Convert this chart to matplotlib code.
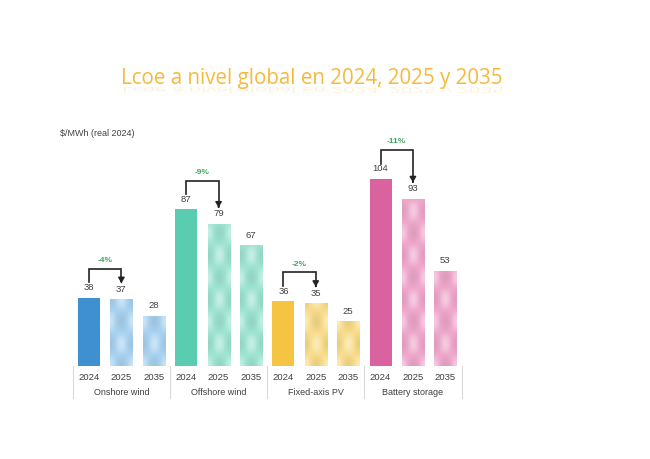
import matplotlib.pyplot as plt
import numpy as np
from matplotlib.textpath import TextPath
from matplotlib.patches import PathPatch
from matplotlib.font_manager import FontProperties
from matplotlib.transforms import Affine2D
from matplotlib.colors import to_rgb

# data
groups = ['Onshore wind', 'Offshore wind', 'Fixed-axis PV', 'Battery storage']
years = ['2024', '2025', '2035']
values = [[38, 37, 28], [87, 79, 67], [36, 35, 25], [104, 93, 53]]
changes = ['-4%', '-9%', '-2%', '-11%']
dark_cols = ['#3F90D1', '#5ACDB1', '#F5C443', '#D9629F']
light_cols = ['#A9D2F0', '#9FE4D2', '#F8DC8C', '#EEA8CC']

plt.rcParams['font.family'] = ['Liberation Sans', 'DejaVu Sans']

fig = plt.figure(figsize=(6.5, 4.59), dpi=100)
ax = fig.add_axes([0.112, 0.2026, 0.598, 0.5098])
ax.set_xlim(-0.5, 11.5)
ax.set_ylim(0, 130)
ax.axis('off')

txt = '#404040'
bw = 0.68
px_per_unit = 0.5098 * 459 / 130


def pattern(base, v):
    # soft bubble texture, period fixed in pixels
    h = int(v * px_per_unit * 2)
    yy, xx = np.mgrid[0:h, 0:44]
    z = np.cos(2 * np.pi * (xx + 0.5) / 44) * np.cos(2 * np.pi * yy / 88)
    rgb = np.array(to_rgb(base))
    dark = rgb * 0.85
    t = z[..., None]
    img = np.where(t > 0, rgb + (1 - rgb) * t * 0.4, rgb + (rgb - dark) * t * 0.45)
    return np.clip(img[::-1], 0, 1)


for g, vals in enumerate(values):
    for k, v in enumerate(vals):
        x = g * 3 + k
        if k == 0:
            ax.bar(x, v, width=bw, color=dark_cols[g], zorder=2)
        else:
            bars = ax.bar(x, v, width=bw, color=light_cols[g], zorder=2)
            im = ax.imshow(pattern(light_cols[g], v), extent=[x - bw / 2, x + bw / 2, 0, v],
                           aspect='auto', zorder=3, interpolation='bilinear',
                           origin='upper')
            im.set_clip_path(bars[0])
        ax.text(x, v + 3, str(v), ha='center', va='bottom', fontsize=6.8, color=txt)
        ax.text(x, -6.5, years[k], ha='center', va='center', fontsize=6.8, color=txt)
    # bracket arrow between 2024 and 2025
    v1, v2 = vals[0], vals[1]
    x1, x2 = g * 3, g * 3 + 1
    top = v1 + 16
    ax.plot([x1, x1, x2, x2], [v1 + 8.5, top, top, v2 + 10], color='#222222', lw=1.2,
            solid_joinstyle='miter', clip_on=False)
    ax.annotate('', xy=(x2, v2 + 7.5), xytext=(x2, v2 + 11),
                arrowprops=dict(arrowstyle='-|>,head_width=0.18,head_length=0.3',
                                color='#222222', lw=1.2), annotation_clip=False)
    ax.text((x1 + x2) / 2, top + 4.5, changes[g], ha='center', va='center',
            fontsize=6, color='#3AAA5A', fontweight='bold')
    ax.text(g * 3 + 1, -14.5, groups[g], ha='center', va='center', fontsize=6.5, color=txt)

# category separators and baseline
for s in [-0.5, 2.5, 5.5, 8.5, 11.5]:
    ax.plot([s, s], [0, -17.5], color='#D9D9D9', lw=0.8, clip_on=False)
ax.plot([-0.5, 11.5], [0, 0], color='#E3E3E3', lw=0.8, zorder=1)

fig.text(0.092, 0.71, '$/MWh (real 2024)', fontsize=6.5, color=txt, va='center')

# title with faint reflection
title = 'Lcoe a nivel global en 2024, 2025 y 2035'
fp = FontProperties(family='Open Sans', size=14.8)
tx, ty = 0.479, 0.828
fig.text(tx, ty, title, fontproperties=fp, color='#F6B93B', ha='center', va='center')
tp = TextPath((0, 0), title, prop=fp)
bb = tp.get_extents()
sc = 100 / 72
x0 = tx * 650 - bb.width / 2 * sc
y0 = ty * 459 - 8
tr = Affine2D().scale(sc, -sc * 0.4).translate(x0, y0)
ref = PathPatch(tr.transform_path(tp), color='#F6B93B', alpha=0.2, lw=0,
                transform=None)
fig.patches.append(ref)

fig.savefig('out.png', dpi=100)
